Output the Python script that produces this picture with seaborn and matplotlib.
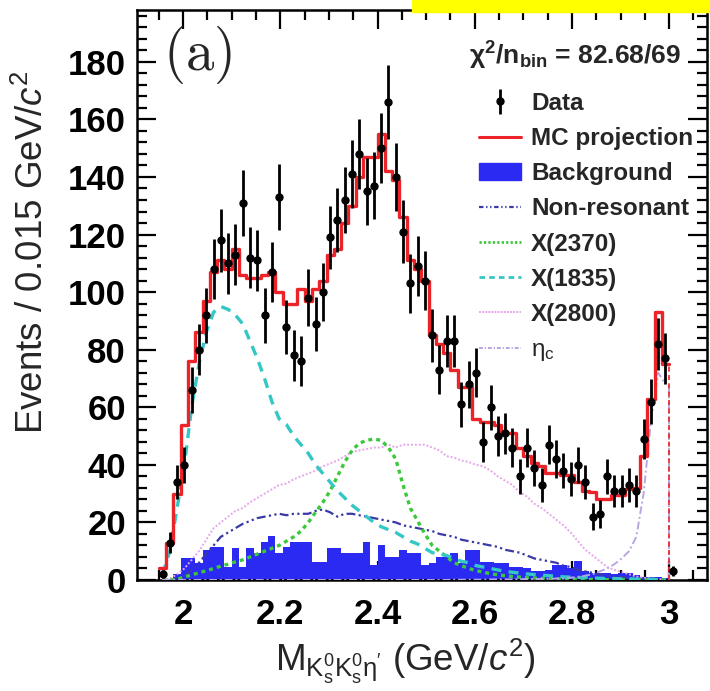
import numpy as np
import pandas as pd
import matplotlib
matplotlib.use("Agg")
import matplotlib.pyplot as plt
import seaborn as sns
from matplotlib.lines import Line2D
from matplotlib.patches import Patch, Rectangle
from matplotlib.ticker import MultipleLocator

# ---------------- data ----------------
bin_lo = 1.95
bin_width = 0.015
n_bins = 70

data_counts = [2, 13, 34, 40, 66, 80, 92, 108, 118, 110,
               113, 131, 112, 111, 92, 107, 133, 88, 78, 76,
               98, 89, 100, 119, 125, 132, 141, 148, 135, 137,
               150, 166, 140, 121, 103, 109, 104, 85, 73, 83,
               83, 61, 68, 72, 48, 60, 50, 51, 46, 36,
               46, 39, 33, 47, 42, 38, 35, 40, 34, 22,
               23, 36, 31, 31, 33, 31, 49, 62, 82, 77,
               3]

mc_projection = [4, 13, 30, 54, 76, 86, 97, 107, 111, 108,
                 115, 106, 105, 105, 106, 107, 100, 96, 96, 101,
                 97, 101, 104, 113, 115, 124, 130, 140, 147, 147,
                 155, 142, 139, 126, 111, 108, 104, 85, 82, 79,
                 73, 67, 67, 56, 55, 55, 54, 51, 51, 46,
                 43, 40.5, 39.5, 37, 37, 36.5, 36.5, 34, 31, 30.5,
                 28, 28, 29.5, 29.5, 31.5, 32, 43, 63, 93, 75]

background = [0, 0.5, 2, 7.5, 7.5, 5.8, 10.4, 11.6, 11.6, 4.6,
              11, 4.6, 11, 9.3, 13.2, 15.2, 9.3, 11.6, 13.2, 13.2,
              13.2, 6.4, 6.4, 11, 11, 9.3, 9.3, 9.3, 13.2, 5.2,
              12.2, 8.1, 8.1, 10.4, 9.3, 9.3, 5.2, 5.8, 8.1, 8.1,
              9.3, 5.8, 10.4, 10.4, 6.4, 6.4, 5.8, 5.8, 4.6, 4.6,
              4, 3, 3, 3.5, 5.2, 5.2, 4, 6.7, 3, 2.3,
              2.3, 2.3, 2, 2.5, 2.5, 1.7, 1.2, 1, 1, 0.8]

non_resonant = [0, 0, 0.5, 1.5, 3.5, 6, 9, 12, 15, 16.5,
                18, 19.5, 20.5, 21.5, 22, 22.5, 23, 22.5, 23, 23,
                23, 24, 24.5, 23.5, 22, 23, 23, 22.5, 22, 21.5,
                21, 20.5, 20, 19, 18.5, 18, 17.5, 17, 16, 15.5,
                15, 14, 13.5, 13, 12.5, 12, 11.5, 10.5, 10, 9.5,
                8.5, 7.5, 7, 6.5, 6, 5, 4.5, 3.5, 3, 2.5,
                2, 1.5, 1.2, 1, 0.8, 0.6, 0.4, 0.3, 0.2, 0.1]

x2370 = [0, 0, 0.3, 1, 1.8, 2.5, 3.2, 4, 4.8, 5.5,
         6.3, 7, 8, 9, 10, 11, 12, 13.5, 15, 17,
         20, 23.5, 27, 31, 36, 41, 45, 47.5, 48.5, 49,
         48.5, 46, 42, 33, 25, 20.5, 16, 12, 10, 8,
         6, 5, 4, 3.3, 2.7, 2.2, 1.8, 1.5, 1.2, 1,
         0.8, 0.7, 0.6, 0.5, 0.4, 0.35, 0.3, 0.25, 0.2, 0.2,
         0.15, 0.1, 0.1, 0.1, 0.05, 0.05, 0.05, 0, 0, 0]

x1835 = [2, 10, 25, 40, 60, 75, 86, 93, 95, 94,
         92, 89, 83, 77, 70, 62, 56, 54, 50, 47,
         44, 40, 37, 34, 31, 28.5, 26, 24, 22, 20,
         18.5, 17.5, 16.5, 15, 13.5, 12.5, 11, 9.5, 9, 8.5,
         7.5, 6.5, 6, 5, 4.5, 4, 3.5, 3, 2.7, 2.4,
         2.1, 1.9, 1.7, 1.5, 1.3, 1.1, 1, 0.9, 0.8, 0.7,
         0.6, 0.5, 0.5, 0.4, 0.4, 0.3, 0.3, 0.2, 0.2, 0.1]

x2800 = [0, 0.5, 2, 4, 7, 10, 14, 18, 20, 22,
         24, 25, 27, 28.5, 30, 31.5, 33, 33.5, 35, 36,
         37, 38, 39.5, 40.5, 41.5, 43, 44.5, 45, 45.5, 46,
         46, 47, 46, 47, 47, 47, 47, 46, 45, 43,
         42.5, 41.5, 41, 40, 39.5, 38, 36, 34.5, 33, 30.5,
         29, 26.5, 25, 23, 21, 19, 16.5, 13.5, 10.5, 8.5,
         6.5, 4.5, 3.5, 2.8, 2, 1.2, 0.8, 0.5, 0.3, 0.1]

eta_c = [0, 0, 0, 0, 0, 0, 0, 0, 0, 0,
         0, 0, 0, 0, 0, 0, 0, 0, 0, 0,
         0, 0, 0, 0, 0, 0, 0, 0, 0, 0,
         0, 0, 0, 0, 0, 0, 0, 0, 0, 0,
         0.1, 0.1, 0.1, 0.1, 0.1, 0.2, 0.2, 0.2, 0.2, 0.3,
         0.3, 0.3, 0.4, 0.4, 0.5, 0.5, 0.8, 1, 1.5, 2,
         3, 4, 5.5, 7.5, 10, 15, 30, 55, 72, 68]

chi2_text = r"$\mathbf{\chi^2/n_{bin}}$ = 82.68/69"
legend_labels = ["Data", "MC projection", "Background", "Non-resonant",
                 "X(2370)", "X(1835)", "X(2800)", r"$\mathrm{\eta_c}$"]
x_ticks = [2.0, 2.2, 2.4, 2.6, 2.8, 3.0]
x_ticklabels = ["2", "2.2", "2.4", "2.6", "2.8", "3"]
y_ticks = [0, 20, 40, 60, 80, 100, 120, 140, 160, 180]

# ---------------- derived binning ----------------
edges = bin_lo + bin_width * np.arange(n_bins + 1)
centers = 0.5 * (edges[:-1] + edges[1:])
data_x = bin_lo + bin_width * (np.arange(len(data_counts)) + 0.5)
data_y = np.array(data_counts, dtype=float)
data_err = np.sqrt(data_y)

hist_df = pd.DataFrame({"mass": centers, "bkg": background,
                        "mc": mc_projection})
edge_list = [float(e) for e in edges]

# ---------------- style ----------------
sns.set_theme(style="ticks")
plt.rcParams["font.family"] = ["Liberation Sans", "DejaVu Sans"]
plt.rcParams["mathtext.fontset"] = "custom"
plt.rcParams["mathtext.rm"] = "Liberation Sans"
plt.rcParams["mathtext.it"] = "Liberation Sans:italic"
plt.rcParams["mathtext.bf"] = "Liberation Sans:bold"

C_RED = "#ec2328"
C_BG = "#2a2af2"
C_NONRES = "#3a3aa6"
C_2370 = "#3cc83c"
C_1835 = "#35c6c6"
C_2800 = "#e6a6ea"
C_ETAC = "#b9a6e2"

fig = plt.figure(figsize=(7.10, 6.91), dpi=100)
fig.patches.append(Rectangle((412 / 710, 1 - 12 / 691), 298 / 710, 12 / 691,
                             transform=fig.transFigure, color="#ffff00",
                             zorder=0))
ax = fig.add_axes([137 / 710, 1 - 580 / 691, 570 / 710, 570 / 691])
ax.set_facecolor("white")

# background filled histogram
sns.histplot(data=hist_df, x="mass", weights="bkg", bins=edge_list,
             element="bars", fill=True, color=C_BG, alpha=1.0, linewidth=0,
             ax=ax, zorder=2)

# component curves
sns.lineplot(x=centers, y=non_resonant, ax=ax, color=C_NONRES, lw=1.6,
             linestyle=(0, (4, 1.5, 1, 1.5, 1, 1.5)), zorder=3)
sns.lineplot(x=centers, y=x2800, ax=ax, color=C_2800, lw=1.4,
             linestyle=(0, (1, 1)), zorder=3)
sns.lineplot(x=centers, y=x2370, ax=ax, color=C_2370, lw=2.4,
             linestyle=(0, (1.2, 1.2)), zorder=3)
sns.lineplot(x=centers, y=x1835, ax=ax, color=C_1835, lw=2.4,
             linestyle=(0, (3, 2.2)), zorder=3)
sns.lineplot(x=centers, y=eta_c, ax=ax, color=C_ETAC, lw=1.4,
             linestyle=(0, (4, 1.5, 1, 1.5)), zorder=3)
ax.vlines(edges[-1], 0, eta_c[-1], color=C_ETAC, lw=1.4,
          linestyle=(0, (4, 1.5, 1, 1.5)), zorder=3)

# MC projection step histogram
sns.histplot(data=hist_df, x="mass", weights="mc", bins=edge_list,
             element="step", fill=False, color=C_RED, linewidth=2.4,
             ax=ax, zorder=4)
ax.vlines(edges[-1], 0, mc_projection[-1], color=C_RED, lw=1.2,
          linestyle=(0, (3, 2)), zorder=4)

# data
eb = ax.errorbar(data_x, data_y, yerr=data_err, fmt="o", color="black",
                 ms=5.0, elinewidth=2.0, capsize=0, zorder=5, label="Data")

# ---------------- axes ----------------
ax.set_xlim(1.905, 3.078)
ax.set_ylim(0, 198)
ax.set_xticks(x_ticks)
ax.set_xticklabels(x_ticklabels)
ax.set_yticks(y_ticks)
ax.xaxis.set_minor_locator(MultipleLocator(0.05))
ax.yaxis.set_minor_locator(MultipleLocator(4))
ax.tick_params(which="both", direction="in", top=True, right=True,
               width=1.6, colors="black")
ax.tick_params(which="major", length=14, labelsize=25)
ax.tick_params(which="minor", length=7)
ax.tick_params(axis="x", which="major", pad=13)
ax.tick_params(axis="y", which="major", pad=8)
for lab in ax.get_xticklabels() + ax.get_yticklabels():
    lab.set_fontweight("bold")
for sp in ax.spines.values():
    sp.set_linewidth(1.8)
    sp.set_color("black")
    sp.set_visible(True)

ax.set_ylabel(r"Events / 0.015 GeV/$\mathit{c}^2$", fontsize=26.5)
ax.yaxis.set_label_coords(-0.15, 0.575)
ax.set_xlabel(r"M$_{\mathrm{K_s^0K_s^0\eta'}}$ (GeV/$\mathit{c}^2$)",
              fontsize=26.5)
ax.xaxis.set_label_coords(0.47, -0.1)

# panel tag
ax.text(0.045, 0.975, r"$\mathrm{(a)}$", transform=ax.transAxes,
        fontsize=41, va="top", ha="left", math_fontfamily="cm")

# chi2 text
ax.text(0.955, 0.92, chi2_text, transform=ax.transAxes, fontsize=19,
        fontweight="bold", ha="right", va="center")

# legend
handles = [
    eb,
    Line2D([], [], color=C_RED, lw=2.2),
    Patch(facecolor=C_BG, edgecolor=C_BG),
    Line2D([], [], color=C_NONRES, lw=1.6, linestyle=(0, (2, 1.2, 0.6, 1.2, 0.6, 1.2))),
    Line2D([], [], color=C_2370, lw=2.0, linestyle=(0, (0.8, 0.8))),
    Line2D([], [], color=C_1835, lw=2.0, linestyle=(0, (2, 1.5))),
    Line2D([], [], color=C_2800, lw=1.4, linestyle=(0, (1, 0.6))),
    Line2D([], [], color=C_ETAC, lw=1.4, linestyle=(0, (2, 1, 0.6, 1))),
]
leg = ax.legend(handles, legend_labels, loc="upper left",
                bbox_to_anchor=(0.57, 0.886), frameon=False,
                prop={"weight": "bold", "size": 17.5, "family": "Liberation Sans"},
                handlelength=1.75, handletextpad=0.4, labelspacing=0.5,
                borderpad=0.2)

fig.savefig("out.png", dpi=100)
